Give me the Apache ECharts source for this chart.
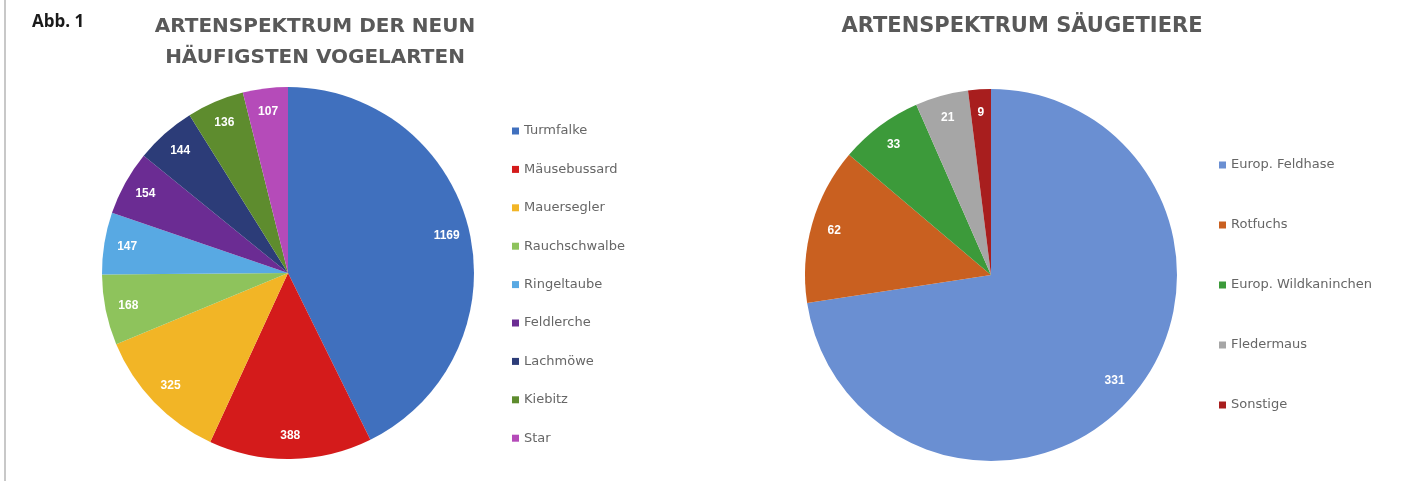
<!DOCTYPE html>
<html>
<head>
<meta charset="utf-8">
<script src="https://cdn.jsdelivr.net/npm/echarts@6/dist/echarts.min.js"></script>
<style>
  html, body { margin: 0; padding: 0; background: #fff; }
  #chart { width: 1425px; height: 481px; }
</style>
</head>
<body>
<div id="chart"></div>
<script>
// Vogelarten
const birdNames = ['Turmfalke', 'Mäusebussard', 'Mauersegler', 'Rauchschwalbe', 'Ringeltaube', 'Feldlerche', 'Lachmöwe', 'Kiebitz', 'Star'];
const birdValues = [1169, 388, 325, 168, 147, 154, 144, 136, 107];
const birdColors = ['#4070BE', '#D41B1B', '#F2B526', '#8EC35C', '#58A9E3', '#6B2C93', '#2C3C78', '#5E8C2E', '#B54BB9'];

// Säugetiere
const mammalNames = ['Europ. Feldhase', 'Rotfuchs', 'Europ. Wildkaninchen', 'Fledermaus', 'Sonstige'];
const mammalValues = [331, 62, 33, 21, 9];
const mammalColors = ['#6A8FD2', '#C96020', '#3C9A3A', '#A6A6A6', '#A81E1E'];

const R = 186;
const titleStyle = { fontFamily: 'DejaVu Sans', fontWeight: 'bold', color: '#595959' };

function pieData(names, values, colors) {
  return names.map((n, i) => ({ name: n, value: values[i], itemStyle: { color: colors[i] } }));
}

// full pie without labels
function pieSeries(names, values, colors, center) {
  return {
    type: 'pie', center: center, radius: [0, R], startAngle: 90, clockwise: true,
    avoidLabelOverlap: false, silent: true,
    label: { show: false }, labelLine: { show: false },
    data: pieData(names, values, colors)
  };
}

// invisible outer ring carrying the value labels near the rim
function labelRing(names, values, center) {
  return {
    type: 'pie', center: center, radius: [R * 0.72, R], startAngle: 90, clockwise: true,
    avoidLabelOverlap: false, silent: true, legendHoverLink: false,
    itemStyle: { color: 'rgba(0,0,0,0)' },
    label: {
      show: true, position: 'inside', formatter: '{c}',
      color: '#ffffff', fontFamily: 'Liberation Sans', fontWeight: 'bold', fontSize: 12
    },
    labelLine: { show: false },
    data: names.map((n, i) => ({ name: n, value: values[i] }))
  };
}

const legendText = { fontFamily: 'DejaVu Sans', fontSize: 13, color: '#666666', lineHeight: 14 };

const option = {
  animation: false,
  backgroundColor: '#ffffff',
  title: [
    { text: 'ARTENSPEKTRUM DER NEUN\nHÄUFIGSTEN VOGELARTEN', left: 310, top: 6, textAlign: 'center',
      textStyle: Object.assign({ fontSize: 20, lineHeight: 31 }, titleStyle) },
    { text: 'ARTENSPEKTRUM SÄUGETIERE', left: 1017, top: 9, textAlign: 'center',
      textStyle: Object.assign({ fontSize: 21, lineHeight: 26 }, titleStyle) },
    { text: 'Abb. 1', left: 27, top: 9,
      textStyle: { fontFamily: 'Open Sans', fontWeight: 'bold', fontSize: 17, color: '#1a1a1a' } }
  ],
  legend: [
    { data: birdNames, orient: 'vertical', left: 507, top: 119, icon: 'rect',
      itemWidth: 7, itemHeight: 7, itemGap: 24.4, textStyle: legendText, selectedMode: false },
    { data: mammalNames, orient: 'vertical', left: 1214, top: 153, icon: 'rect',
      itemWidth: 7, itemHeight: 7, itemGap: 46, textStyle: legendText, selectedMode: false }
  ],
  graphic: [
    { type: 'line', shape: { x1: 5, y1: 0, x2: 5, y2: 481 }, style: { stroke: '#c8c8c8', lineWidth: 2 } }
  ],
  series: [
    pieSeries(birdNames, birdValues, birdColors, [288, 273]),
    labelRing(birdNames, birdValues, [288, 273]),
    pieSeries(mammalNames, mammalValues, mammalColors, [991, 275]),
    labelRing(mammalNames, mammalValues, [991, 275])
  ]
};

const chart = echarts.init(document.getElementById('chart'), null, { renderer: 'canvas' });
chart.setOption(option);
</script>
</body>
</html>
